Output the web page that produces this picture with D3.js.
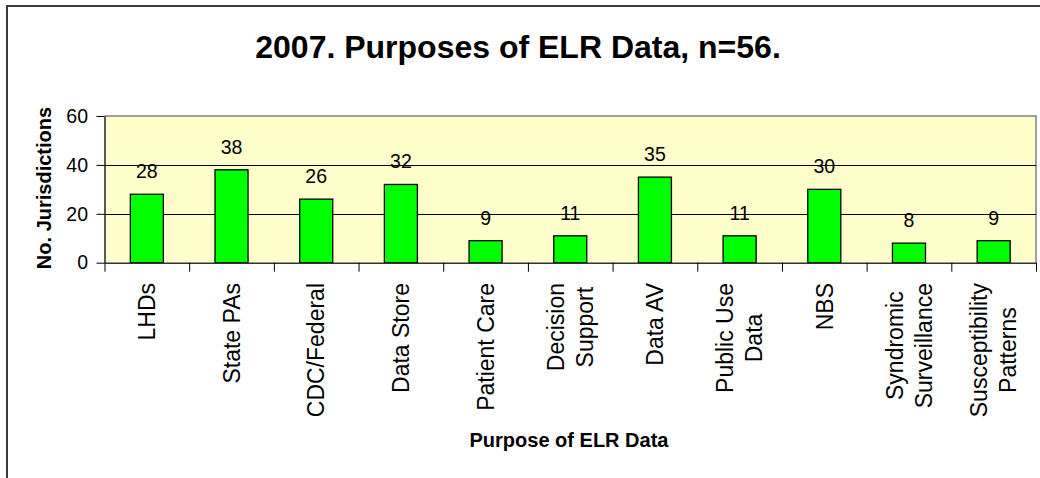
<!DOCTYPE html>
<html>
<head>
<meta charset="utf-8">
<script src="https://cdn.jsdelivr.net/npm/d3@7"></script>
<style>
body {margin: 0; background: #fff;}
svg {display: block;}
text {font-family: "Liberation Sans", Arial, sans-serif; fill: #000;}
</style>
</head>
<body>
<svg></svg>
<script>
var screen = {width: 1040, height: 478}

// chart data
var categories = ["LHDs", "State PAs", "CDC/Federal", "Data Store", "Patient Care", "Decision\nSupport",
                  "Data AV", "Public Use\nData", "NBS", "Syndromic\nSurveillance", "Susceptibility\nPatterns"]
var values = [28, 38, 26, 32, 9, 11, 35, 11, 30, 8, 9]
var yTicks = [0, 20, 40, 60]

var titleText = "2007. Purposes of ELR Data, n=56."
var xTitle = "Purpose of ELR Data"
var yTitle = "No. Jurisdictions"

var plot = {left: 104.5, right: 1036, top: 116, bottom: 262.7}

var svg = d3.select("svg")
    .attr("width", screen.width)
    .attr("height", screen.height)

// outer chart border (runs off the right / bottom edge)
svg.append("rect")
    .attr("x", 7)
    .attr("y", 6)
    .attr("width", 1100)
    .attr("height", 600)
    .attr("fill", "none")
    .attr("stroke", "#3a3a3a")
    .attr("stroke-width", 2)

var xScale = d3.scaleBand()
    .domain(categories)
    .range([plot.left, plot.right])
    .paddingInner(0.61)
    .paddingOuter(0.305)

var yScale = d3.scaleLinear()
    .domain([0, 60])
    .range([plot.bottom, plot.top])

// plot background
svg.append("rect")
    .attr("x", plot.left)
    .attr("y", plot.top)
    .attr("width", plot.right - plot.left)
    .attr("height", plot.bottom - plot.top)
    .attr("fill", "#FFFFCC")

// gray top/right border of plot area
svg.append("path")
    .attr("d", "M" + plot.left + "," + plot.top + "H" + plot.right + "V" + plot.bottom)
    .attr("fill", "none")
    .attr("stroke", "#808080")
    .attr("stroke-width", 1.5)

// gridlines
svg.append("g")
    .selectAll("line")
    .data(yTicks.filter(function(t) { return t > 0 && t < 60 }))
    .enter()
    .append("line")
    .attr("x1", plot.left)
    .attr("x2", plot.right)
    .attr("y1", function(t) { return Math.round(yScale(t)) + 0.5 })
    .attr("y2", function(t) { return Math.round(yScale(t)) + 0.5 })
    .attr("stroke", "#000")
    .attr("stroke-width", 1)

// bars
svg.append("g")
    .selectAll("rect")
    .data(values)
    .enter()
    .append("rect")
    .attr("x", function(v, i) { return xScale(categories[i]) })
    .attr("y", function(v) { return yScale(v) })
    .attr("width", xScale.bandwidth())
    .attr("height", function(v) { return yScale(0) - yScale(v) })
    .attr("fill", "#00FF00")
    .attr("stroke", "#000")
    .attr("stroke-width", 1.3)

// value labels
svg.append("g")
    .selectAll("text")
    .data(values)
    .enter()
    .append("text")
    .attr("x", function(v, i) { return xScale(categories[i]) + xScale.bandwidth() / 2 })
    .attr("y", function(v) { return yScale(v) - 16 })
    .attr("text-anchor", "middle")
    .style("font-size", "19.5px")
    .text(function(v) { return v })

//
// AXES
//
var yAxis = d3.axisLeft(yScale)
    .tickValues(yTicks)
    .tickSize(8)
    .tickSizeOuter(0)
    .tickPadding(8.5)

var yG = svg.append("g")
    .attr("transform", "translate(" + plot.left + ",0)")
    .call(yAxis)
yG.select(".domain").attr("stroke", "#000").attr("stroke-width", 1.3)
yG.selectAll(".tick line").attr("stroke", "#000")
yG.selectAll(".tick text")
    .style("font-size", "19.5px")
    .style("font-family", "'Liberation Sans', Arial, sans-serif")
    .attr("fill", "#000")

// x ticks sit on the band boundaries
var edgeScale = d3.scaleLinear()
    .domain([0, categories.length])
    .range([plot.left, plot.right])

var xAxis = d3.axisBottom(edgeScale)
    .tickValues(d3.range(categories.length + 1))
    .tickFormat("")
    .tickSize(9)
    .tickSizeOuter(0)

var xG = svg.append("g")
    .attr("transform", "translate(0," + plot.bottom + ")")
    .call(xAxis)
xG.select(".domain").attr("stroke", "#333").attr("stroke-width", 1.5)
xG.selectAll(".tick line").attr("stroke", "#000")

// category labels, rotated, multi-line ones centered on the longest line
var catG = svg.append("g")
categories.forEach(function(cat, i) {
    var lines = cat.split("\n")
    var cx = xScale(cat) + xScale.bandwidth() / 2
    var g = catG.append("g")
    var longest = 0
    lines.forEach(function(line, k) {
        var t = g.append("text")
            .attr("x", 0)
            .attr("y", (k - (lines.length - 1) / 2) * 29)
            .attr("dy", "0.36em")
            .attr("text-anchor", "middle")
            .style("font-size", "23px")
            .text(line)
        longest = Math.max(longest, t.node().getComputedTextLength())
    })
    g.attr("transform", "translate(" + cx + "," + (283 + longest / 2) + ") rotate(-90)")
})

// titles
svg.append("text")
    .attr("x", 518)
    .attr("y", 58)
    .attr("text-anchor", "middle")
    .style("font-size", "32px")
    .style("font-weight", "bold")
    .text(titleText)

svg.append("text")
    .attr("x", 569)
    .attr("y", 446.5)
    .attr("text-anchor", "middle")
    .style("font-size", "20px")
    .style("font-weight", "bold")
    .text(xTitle)

svg.append("text")
    .attr("transform", "translate(44,188) rotate(-90)")
    .attr("dy", "0.36em")
    .attr("text-anchor", "middle")
    .style("font-size", "20px")
    .style("font-weight", "bold")
    .text(yTitle)
</script>
</body>
</html>
